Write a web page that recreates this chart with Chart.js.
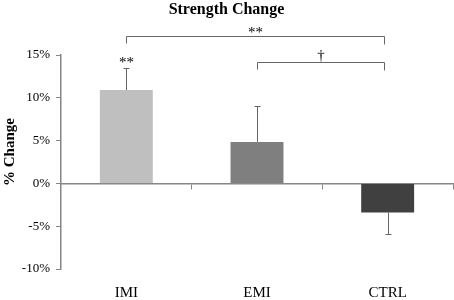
<!DOCTYPE html>
<html>
<head>
<meta charset="utf-8">
<script src="https://cdn.jsdelivr.net/npm/chart.js@4.4.1/dist/chart.umd.min.js"></script>
<style>
  html, body { margin: 0; padding: 0; background: #fff; }
  #wrap { width: 454px; height: 300px; }
</style>
</head>
<body>
<div id="wrap"><canvas id="chart-strength"></canvas></div>
<script>
const groups = ['IMI', 'EMI', 'CTRL'];
const meanChange = [10.9, 4.85, -3.4];
const errChange = [2.6, 4.25, 2.5];
const barColors = ['#bfbfbf', '#7f7f7f', '#404040'];
const groupMarks = ['**', '', ''];
// [from, to, height (%), mark]
const brackets = [
    ['IMI', 'CTRL', 17.2, '**'],
    ['EMI', 'CTRL', 14.2, '\u2020']
];
const yTitle = '% Change';

const serif = "'Liberation Serif', 'Times New Roman', serif";
const axisGrey = '#868686';

const errorBars = {
    id: 'errorBars',
    afterDatasetsDraw(chart) {
        const ctx = chart.ctx;
        const y = chart.scales.y;
        const meta = chart.getDatasetMeta(0);
        ctx.save();
        ctx.strokeStyle = '#666';
        ctx.lineWidth = 1;
        ctx.fillStyle = '#000';
        ctx.font = '15px ' + serif;
        ctx.textAlign = 'center';
        ctx.textBaseline = 'alphabetic';
        meta.data.forEach((bar, i) => {
            const v = meanChange[i];
            const end = v >= 0 ? v + errChange[i] : v - errChange[i];
            const x = Math.round(bar.x) + 0.5;
            const y0 = y.getPixelForValue(v);
            const y1 = Math.round(y.getPixelForValue(end)) + 0.5;
            ctx.beginPath();
            ctx.moveTo(x, y0);
            ctx.lineTo(x, y1);
            ctx.moveTo(x - 3, y1);
            ctx.lineTo(x + 3, y1);
            ctx.stroke();
            if (groupMarks[i]) ctx.fillText(groupMarks[i], x, y1 - 2);
        });
        brackets.forEach(([a, b, h, mark]) => {
            const xa = Math.round(meta.data[groups.indexOf(a)].x) + 0.5;
            const xb = Math.round(meta.data[groups.indexOf(b)].x) - 3.5;
            const yl = Math.round(y.getPixelForValue(h)) + 0.5;
            ctx.beginPath();
            ctx.moveTo(xa, yl + 7);
            ctx.lineTo(xa, yl);
            ctx.lineTo(xb, yl);
            ctx.lineTo(xb, yl + 8);
            ctx.stroke();
            ctx.fillText(mark, (xa + xb) / 2, yl - (mark === '**' ? 0 : 3));
        });
        // y axis title, sits a little above the middle of the axis
        const area = chart.chartArea;
        ctx.font = 'bold 15px ' + serif;
        ctx.textBaseline = 'middle';
        ctx.translate(10, (area.top + area.bottom) / 2 - 10);
        ctx.rotate(-Math.PI / 2);
        ctx.fillText(yTitle, 0, 0);
        ctx.restore();
    }
};

const strengthChart = new Chart(document.getElementById('chart-strength'), {
    type: 'bar',
    data: {
        labels: groups,
        datasets: [{
            data: meanChange,
            backgroundColor: barColors,
            borderWidth: 0,
            categoryPercentage: 1,
            barPercentage: 0.405
        }]
    },
    options: {
        responsive: true,
        maintainAspectRatio: false,
        animation: false,
        layout: { padding: { left: 0, right: 1, top: 0, bottom: 0 } },
        plugins: {
            legend: { display: false },
            tooltip: { enabled: false },
            title: {
                display: true,
                text: 'Strength Change',
                color: '#000',
                font: { family: serif, size: 16, weight: 'bold' },
                padding: { top: 0, bottom: 35.8 }
            }
        },
        scales: {
            x: {
                offset: true,
                border: { display: false },
                grid: { display: false, drawTicks: false },
                ticks: {
                    color: '#000',
                    padding: 15,
                    font: { family: serif, size: 15 }
                },
                afterFit(scale) { scale.height = 31; }
            },
            x2: {
                type: 'category',
                labels: groups,
                position: { y: 0 },
                offset: true,
                border: { display: true, color: axisGrey, width: 1.5 },
                grid: { offset: true, drawOnChartArea: false, drawTicks: true, tickLength: 5, color: axisGrey },
                ticks: { display: false }
            },
            y: {
                min: -10,
                max: 15,
                border: { display: true, color: axisGrey, width: 1.5 },
                grid: { drawOnChartArea: false, drawTicks: true, tickLength: 5, color: axisGrey },
                ticks: {
                    stepSize: 5,
                    padding: 6,
                    color: '#000',
                    font: { family: serif, size: 13 },
                    callback: (v) => v + '%'
                },
                afterFit(scale) { scale.width = 61; }
            }
        }
    },
    plugins: [errorBars]
});
</script>
</body>
</html>
